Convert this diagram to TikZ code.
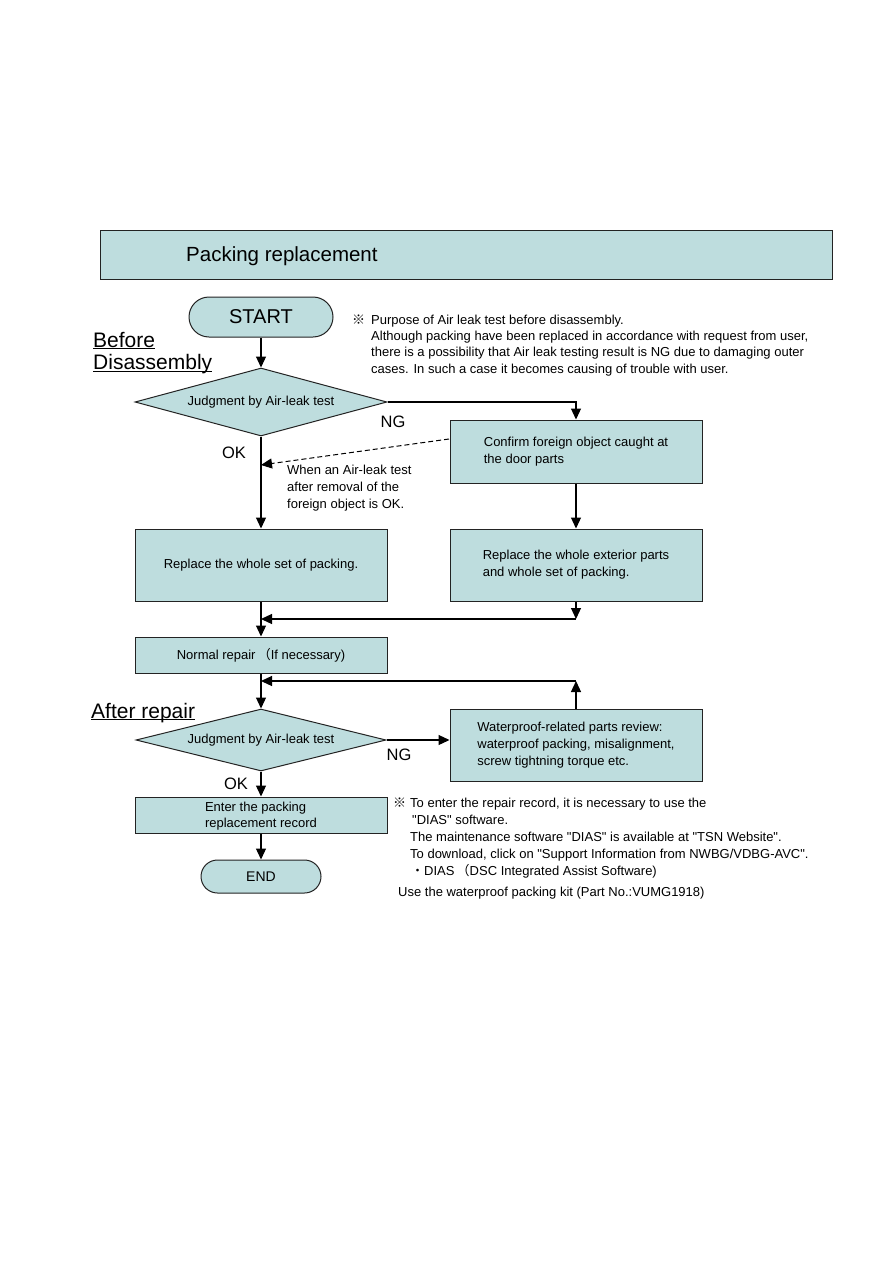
\documentclass[tikz,border=0pt]{standalone}
\usepackage{fontspec}
\setmainfont{Liberation Sans}[Ligatures=TeXOff]
\newfontfamily\cjk{Noto Sans CJK JP}
\usetikzlibrary{shapes.geometric,arrows.meta,calc}
\definecolor{tealfill}{RGB}{190,221,222}
\definecolor{edge}{RGB}{35,35,35}
\newcommand\myul[1]{\setbox0\hbox{#1}\rlap{\rule[-2.2pt]{\wd0}{1.1pt}}\box0}
\begin{document}
\begin{tikzpicture}[x=1pt,y=-1pt,
  every node/.style={font=\fontsize{13}{17}\selectfont},
  box/.style={draw=edge, line width=1pt, fill=tealfill, minimum width=252pt, inner sep=0pt, align=left},
  term/.style={draw=edge, line width=1pt, fill=tealfill, inner sep=0pt},
  dec/.style={diamond, draw=edge, line width=1pt, fill=tealfill, inner sep=0pt, aspect=3.7},
  arr/.style={line width=1.2pt, -{Triangle[length=11pt,width=10pt]}},
  lbl/.style={font=\fontsize{16.5}{18}\selectfont, inner sep=0pt},
  head/.style={font=\fontsize{21}{24}\selectfont, anchor=base west, inner sep=0pt},
  note/.style={align=left, anchor=north west, inner sep=0pt}
]
\useasboundingbox (0,0) rectangle (893,1263);
\fill[white] (0,0) rectangle (893,1263);

% title
\node[draw=edge, line width=1pt, fill=tealfill, minimum width=732pt, minimum height=49pt, inner sep=0pt] (title) at (466,254.5) {};
\node[font=\fontsize{20.5}{24}\selectfont, anchor=west, inner sep=0pt] (titletext) at (186,256) {Packing replacement};

% terminals, decisions, boxes
\node[term, rounded corners=20pt, minimum width=144pt, minimum height=40pt, font=\fontsize{20}{24}\selectfont] (start) at (261,317) {START};
\node[dec, minimum width=252pt, minimum height=68pt] (d1) at (261,402) {Judgment by Air-leak test};
\node[box, minimum height=63pt] (confirm) at (576,451.5) {Confirm foreign object caught at\\the door parts};
\node[box, minimum height=72pt] (rep1) at (261,565) {Replace the whole set of packing.};
\node[box, minimum height=72pt] (rep2) at (576,565) {Replace the whole exterior parts\\and whole set of packing.};
\node[box, minimum height=36pt] (normal) at (261,655) {Normal repair\,{\cjk （}If necessary)};
\node[dec, minimum width=250pt, minimum height=62pt] (d2) at (261,740) {Judgment by Air-leak test};
\node[box, minimum height=72pt] (water) at (576,745) {Waterproof-related parts review:\\waterproof packing, misalignment,\\screw tightning torque etc.};
\node[box, minimum height=36pt, font=\fontsize{13}{16}\selectfont] (enter) at (261,815) {\rule{0pt}{11pt}Enter the packing\\replacement record};
\node[term, rounded corners=16.5pt, minimum width=120pt, minimum height=33pt, font=\fontsize{14}{16}\selectfont] (end) at (261,876.5) {END};

% section headings
\node[head] (before) at (93,347) {\myul{Before}};
\node[head] (disas) at (93,369.5) {\myul{Disassembly}};
\node[head] (after) at (91,718) {\myul{After repair}};

% labels
\node[lbl] (ng1) at (393,422) {NG};
\node[lbl] (ok1) at (234,453) {OK};
\node[lbl] (ng2) at (399,755) {NG};
\node[lbl] (ok2) at (236,784) {OK};

% connectors
\coordinate (c1) at (576,402);
\coordinate (dj) at (261,465);
\coordinate (ds) at (449,439);
\coordinate (m1) at (576,619);
\coordinate (j1) at (261,619);
\coordinate (m2) at (576,681);
\coordinate (j2) at (261,681);

\draw[arr] (start) -- (d1);
\draw[arr] (d1.east) -- (c1) -- (confirm.north);
\draw[arr] (d1.south) -- (rep1.north);
\draw[arr, line width=1pt, dash pattern=on 5pt off 3pt] (ds) -- (dj);
\draw[arr] (confirm.south) -- (rep2.north);
\draw[arr] (rep2.south) -- (m1);
\draw[arr] (m1) -- (j1);
\draw[arr] (rep1.south) -- (normal.north);
\draw[arr] (normal.south) -- (d2.north);
\draw[arr] (water.north) -- (m2);
\draw[arr] (m2) -- (j2);
\draw[arr] (d2.east) -- (d2.east -| water.west);
\draw[arr] (d2.south) -- (enter.north);
\draw[arr] (enter.south) -- (end.north);

% notes
\node[note] (whennote) at (287,465) {When an Air-leak test\\after removal of the\\foreign object is OK.};
\node[anchor=west, inner sep=0pt] (mark1) at (352,320) {\cjk ※};
\node[note, font=\fontsize{13}{16.3}\selectfont] (topnote) at (371,314.5) {Purpose of Air leak test before disassembly.\\Although packing have been replaced in accordance with request from user,\\there is a possibility that Air leak testing result is NG due to damaging outer\\cases. In such a case it becomes causing of trouble with user.};
\node[anchor=west, inner sep=0pt] (mark2) at (393,803) {\cjk ※};
\node[note, font=\fontsize{13}{17}\selectfont] (botnote) at (410,797.5) {To enter the repair record, it is necessary to use the\\\hspace*{2pt}"DIAS" software.\\The maintenance software "DIAS" is available at "TSN Website".\\To download, click on "Support Information from NWBG/VDBG-AVC".\\\hspace*{1pt}{\cjk ・}DIAS\,{\cjk （}DSC Integrated Assist Software)};
\node[anchor=west, inner sep=0pt] (kit) at (398,893) {Use the waterproof packing kit (Part No.:VUMG1918)};
\end{tikzpicture}
\end{document}
